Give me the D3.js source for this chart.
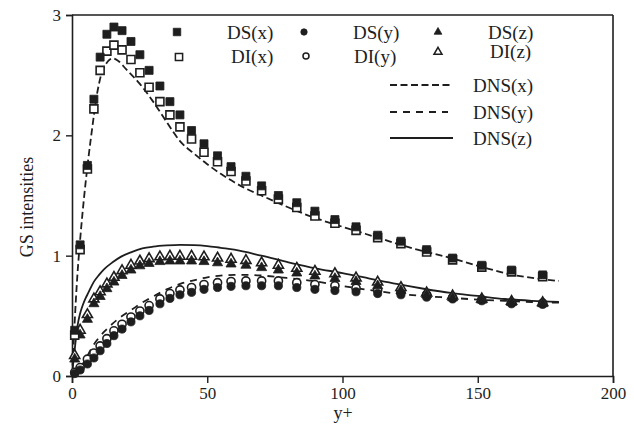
<!DOCTYPE html>
<html>
<head>
<meta charset="utf-8">
<script src="https://cdn.jsdelivr.net/npm/d3@7/dist/d3.min.js"></script>
<style>
  html, body { margin: 0; padding: 0; background: #fff; }
  svg { display: block; }
  text { font-family: "Liberation Serif", "Times New Roman", serif; fill: #1e1e1e; }
</style>
</head>
<body>
<svg id="chart" width="634" height="438"></svg>
<script>
// ---- data ----
const yPlus = [1, 3, 5.7, 8.1, 10.4, 12.9, 15.5, 18.5, 21.8, 25.1, 28.5, 32.5, 36.2, 39.9, 44.2, 48.8,
  53.8, 58.8, 64.3, 70.1, 76.3, 83.1, 89.8, 97.2, 105, 113, 121.6, 131.1, 140.7, 151.5, 162.5, 174];

const dsX = [0.38, 1.09, 1.75, 2.30, 2.65, 2.84, 2.90, 2.87, 2.78, 2.67, 2.54, 2.41, 2.28, 2.17, 2.04, 1.93,
  1.83, 1.74, 1.66, 1.58, 1.50, 1.44, 1.37, 1.30, 1.24, 1.17, 1.12, 1.05, 0.98, 0.92, 0.88, 0.84];
const diX = [0.34, 1.05, 1.72, 2.22, 2.54, 2.70, 2.75, 2.71, 2.63, 2.52, 2.40, 2.28, 2.17, 2.07, 1.97, 1.86,
  1.78, 1.70, 1.62, 1.54, 1.47, 1.40, 1.33, 1.27, 1.21, 1.15, 1.10, 1.03, 0.965, 0.905, 0.865, 0.825];

const dsY = [0.02, 0.05, 0.10, 0.15, 0.21, 0.27, 0.335, 0.39, 0.45, 0.50, 0.545, 0.60, 0.645, 0.675, 0.695, 0.72,
  0.735, 0.745, 0.75, 0.75, 0.75, 0.735, 0.72, 0.71, 0.70, 0.685, 0.675, 0.655, 0.64, 0.625, 0.60, 0.595];
const diY = [0.03, 0.07, 0.14, 0.19, 0.25, 0.31, 0.375, 0.43, 0.49, 0.54, 0.585, 0.64, 0.685, 0.715, 0.735, 0.76,
  0.775, 0.785, 0.79, 0.79, 0.79, 0.775, 0.76, 0.75, 0.73, 0.715, 0.695, 0.675, 0.65, 0.635, 0.61, 0.605];

const dsZ = [0.14, 0.34, 0.47, 0.60, 0.66, 0.725, 0.78, 0.835, 0.88, 0.915, 0.935, 0.95, 0.955, 0.955, 0.955, 0.95,
  0.94, 0.93, 0.92, 0.90, 0.88, 0.855, 0.83, 0.81, 0.785, 0.75, 0.71, 0.675, 0.65, 0.63, 0.61, 0.60];
const diZ = [0.17, 0.38, 0.51, 0.64, 0.70, 0.765, 0.82, 0.875, 0.92, 0.955, 0.975, 0.99, 0.995, 0.995, 0.995, 0.99,
  0.98, 0.97, 0.96, 0.94, 0.92, 0.895, 0.87, 0.85, 0.815, 0.78, 0.735, 0.69, 0.665, 0.64, 0.62, 0.61];

const dnsXx = [0, 0.5, 1, 1.5, 2, 3, 4, 5, 6, 7, 8, 9, 10, 11, 12, 13.5, 15, 17, 20, 25, 30, 35, 40, 45, 50,
  55, 60, 65, 70, 77, 89, 100, 113, 126, 138.5, 151, 163, 172, 180];
const dnsXv = [0, 0.22, 0.45, 0.66, 0.84, 1.13, 1.38, 1.6, 1.8, 1.98, 2.15, 2.31, 2.43, 2.52, 2.57, 2.62, 2.64, 2.62, 2.55, 2.43, 2.28, 2.11, 1.95, 1.85, 1.76,
  1.68, 1.61, 1.55, 1.50, 1.43, 1.32, 1.24, 1.15, 1.06, 0.99, 0.91, 0.84, 0.81, 0.79];

const dnsYx = [0, 2, 4, 6, 8, 10, 12, 15, 18, 22, 26, 30, 35, 40, 45, 50, 55, 60, 65, 70, 77, 89, 97, 105,
  113, 120, 130, 140, 150, 160, 170, 180];
const dnsYv = [0, 0.03, 0.10, 0.18, 0.26, 0.32, 0.37, 0.435, 0.49, 0.55, 0.61, 0.66, 0.72, 0.765, 0.795, 0.82, 0.835, 0.84, 0.84, 0.835, 0.82, 0.79, 0.76, 0.73,
  0.705, 0.685, 0.665, 0.65, 0.635, 0.625, 0.615, 0.61];

const dnsZx = [0, 0.5, 1, 1.5, 2, 3, 4, 5, 6, 8, 10, 12, 15, 18, 22, 26, 30, 35, 40, 45, 50, 55, 60, 70, 80, 90,
  100, 110, 120, 130, 140, 150, 160, 170, 180];
const dnsZv = [0, 0.12, 0.22, 0.32, 0.41, 0.52, 0.59, 0.645, 0.69, 0.78, 0.84, 0.89, 0.945, 0.99, 1.03, 1.06, 1.075, 1.085, 1.09, 1.088, 1.08, 1.065, 1.05, 1.0, 0.945, 0.895,
  0.855, 0.81, 0.765, 0.725, 0.69, 0.665, 0.64, 0.625, 0.615];

const xTicks = [0, 50, 100, 150, 200];
const yTicks = [0, 1, 2, 3];
const legendLabels = ["DS(x)", "DS(y)", "DS(z)", "DI(x)", "DI(y)", "DI(z)", "DNS(x)", "DNS(y)", "DNS(z)"];

// ---- drawing ----
const ink = "#1e1e1e";
const svg = d3.select("#chart");
const L = 72, R = 613, T = 15, B = 376;
const x = d3.scaleLinear().domain([0, 200]).range([L, R]);
const y = d3.scaleLinear().domain([0, 3]).range([B, T]);

// frame
svg.append("line").attr("x1", L).attr("x2", R).attr("y1", T).attr("y2", T).attr("stroke", ink).attr("stroke-width", 1.6);
svg.append("line").attr("x1", R).attr("x2", R).attr("y1", T).attr("y2", B).attr("stroke", ink).attr("stroke-width", 1.6);

const gx = svg.append("g").attr("transform", `translate(0,${B})`)
  .call(d3.axisBottom(x).tickValues(xTicks).tickSize(7).tickPadding(4).tickFormat(d3.format("d")));
const gy = svg.append("g").attr("transform", `translate(${L},0)`)
  .call(d3.axisLeft(y).tickValues(yTicks).tickSize(6).tickPadding(5).tickFormat(d3.format("d")));
[gx, gy].forEach(g => {
  g.select(".domain").attr("stroke", ink).attr("stroke-width", 1.6);
  g.selectAll(".tick line").attr("stroke", ink).attr("stroke-width", 1.4);
  g.selectAll(".tick text").attr("font-size", 17).attr("fill", ink)
    .style("font-family", '"Liberation Serif", serif');
});

svg.append("text").attr("x", 343).attr("y", 419).attr("text-anchor", "middle")
  .attr("font-size", 18).text("y+");
svg.append("text").attr("transform", "translate(33,207) rotate(-90)").attr("text-anchor", "middle")
  .attr("font-size", 18).text("GS intensities");

// curves
const line = d3.line().x(d => x(d[0])).y(d => y(d[1])).curve(d3.curveMonotoneX);
const curves = [
  { xs: dnsXx, vs: dnsXv, dash: "7,3.5" },
  { xs: dnsYx, vs: dnsYv, dash: "7,6" },
  { xs: dnsZx, vs: dnsZv, dash: null }
];
curves.forEach(c => {
  svg.append("path").datum(c.xs.map((v, i) => [v, c.vs[i]]))
    .attr("d", line).attr("fill", "none").attr("stroke", ink).attr("stroke-width", 1.8)
    .attr("stroke-dasharray", c.dash);
});

// markers
const symSquare = d3.symbol().type(d3.symbolSquare).size(64);
const symCircle = d3.symbol().type(d3.symbolCircle).size(52);
const symTri = d3.symbol().type(d3.symbolTriangle).size(44);
function drawSeries(vals, sym, filled) {
  svg.append("g").selectAll("path").data(yPlus.map((v, i) => [v, vals[i]])).join("path")
    .attr("transform", d => `translate(${x(d[0])},${y(d[1])})`)
    .attr("d", sym)
    .attr("fill", filled ? ink : "#fff")
    .attr("stroke", ink).attr("stroke-width", filled ? 0.8 : 1.6);
}
drawSeries(diY, symCircle, false);
drawSeries(dsY, symCircle, true);
drawSeries(diZ, symTri, false);
drawSeries(dsZ, symTri, true);
drawSeries(diX, symSquare, false);
drawSeries(dsX, symSquare, true);

// legend
const legSym = [
  { s: d3.symbol().type(d3.symbolSquare).size(56), f: true, mx: 177, my: 32, tx: 227, ty: 39 },
  { s: d3.symbol().type(d3.symbolCircle).size(32), f: true, mx: 304, my: 32, tx: 353, ty: 39 },
  { s: d3.symbol().type(d3.symbolTriangle).size(26), f: true, mx: 438, my: 32, tx: 488, ty: 39 },
  { s: d3.symbol().type(d3.symbolSquare).size(52), f: false, mx: 179, my: 57, tx: 231, ty: 63 },
  { s: d3.symbol().type(d3.symbolCircle).size(28), f: false, mx: 306, my: 56, tx: 354, ty: 63 },
  { s: d3.symbol().type(d3.symbolTriangle).size(28), f: false, mx: 438, my: 52, tx: 490, ty: 58 }
];
legSym.forEach((d, i) => {
  svg.append("path").attr("transform", `translate(${d.mx},${d.my})`).attr("d", d.s)
    .attr("fill", d.f ? ink : "#fff").attr("stroke", ink).attr("stroke-width", d.f ? 0.8 : 1.5);
  svg.append("text").attr("x", d.tx).attr("y", d.ty).attr("font-size", 19).text(legendLabels[i]);
});
const legLines = [
  { y: 85, x2: 452, dash: "7,3.5" },
  { y: 112, x2: 448, dash: "7,6" },
  { y: 138, x2: 453, dash: null }
];
legLines.forEach((d, i) => {
  svg.append("line").attr("x1", 390).attr("x2", d.x2).attr("y1", d.y).attr("y2", d.y)
    .attr("stroke", ink).attr("stroke-width", 1.8).attr("stroke-dasharray", d.dash);
  svg.append("text").attr("x", 473).attr("y", d.y + 7).attr("font-size", 19).text(legendLabels[6 + i]);
});
</script>
</body>
</html>
